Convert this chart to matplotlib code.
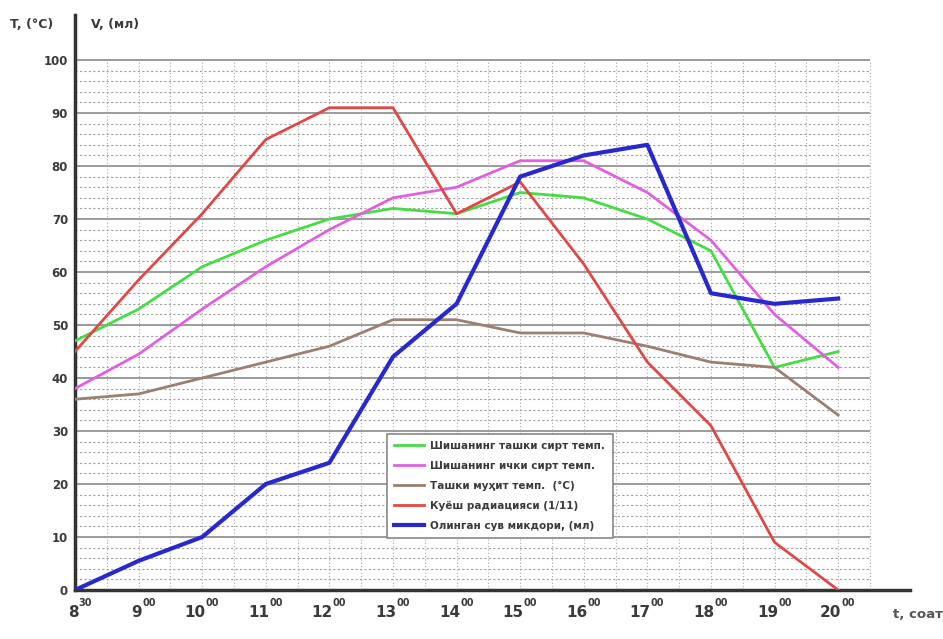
import numpy as np
import matplotlib
matplotlib.use('Agg')
import matplotlib.pyplot as plt

plt.rcParams['font.family'] = ['DejaVu Sans']

# hours of day (data points)
hours = [8, 9, 10, 11, 12, 13, 14, 15, 16, 17, 18, 19, 20]

# series
outer_glass = [47, 53, 61, 66, 70, 72, 71, 75, 74, 70, 64, 42, 45]
inner_glass = [38, 44.5, 53, 61, 68, 74, 76, 81, 81, 75, 66, 52, 42]
ambient = [36, 37, 40, 43, 46, 51, 51, 48.5, 48.5, 46, 43, 42, 33]
radiation = [45, 58.5, 71, 85, 91, 91, 71, 77, 61.5, 43, 31, 9, 0]
water = [0, 5.5, 10, 20, 24, 44, 54, 78, 82, 84, 56, 54, 55]

# x tick labels: hour + superscript minutes
tick_hours = [str(h) for h in hours]
tick_minutes = ['30'] + ['00'] * 12

legend_labels = ['Шишанинг ташки сирт темп.',
                 'Шишанинг ички сирт темп.',
                 'Ташки муҳит темп.  (°C)',
                 'Куёш радиацияси (1/11)',
                 'Олинган сув микдори, (мл)']

txt = '#3a3a3a'

fig = plt.figure(figsize=(9.43, 6.39), dpi=100)
ax = fig.add_axes([75/943, 49/639, 835/943, 575/639])
ax.set_xlim(8, 21.13)
ax.set_ylim(0, 108.5)

# grid drawn by hand so it stops at 100 / 20:30 like the original
x_end = 20.5
for v in np.arange(0, 101, 2):
    if v % 10 == 0:
        ax.hlines(v, 8, x_end, color='#8a8a8a', lw=1.2, zorder=1)
    else:
        ax.hlines(v, 8, x_end, color='#a0a0a0', lw=0.8, ls=(0, (2, 2)), zorder=1)
for h in np.arange(8.5, 20.6, 0.5):
    ax.vlines(h, 0, 100, color='#a8a8a8', lw=0.8, ls=(0, (1, 2)), zorder=1)

ax.plot(hours, outer_glass, color='#44dd44', lw=2, label=legend_labels[0], zorder=3)
ax.plot(hours, inner_glass, color='#e060e0', lw=2, label=legend_labels[1], zorder=3)
ax.plot(hours, ambient, color='#9c7f70', lw=2, label=legend_labels[2], zorder=3)
ax.plot(hours, radiation, color='#e04848', lw=2, label=legend_labels[3], zorder=3)
ax.plot(hours, water, color='#2828d0', lw=3, label=legend_labels[4], zorder=4)

ax.set_yticks(np.arange(0, 101, 10))
ax.set_yticklabels([str(v) for v in range(0, 101, 10)],
                   fontsize=8.5, fontweight='bold', color=txt)
ax.tick_params(axis='y', length=0, pad=5)
ax.set_xticks([])

# hour labels with small raised minutes
for h, hs, ms in zip(hours, tick_hours, tick_minutes):
    ax.annotate(hs, xy=(h, 0), xycoords=('data', 'axes fraction'),
                xytext=(2.5, -10.5), textcoords='offset points', ha='right',
                va='top', fontsize=11, fontweight='bold', color=txt)
    ax.annotate(ms, xy=(h, 0), xycoords=('data', 'axes fraction'),
                xytext=(2.5, -6), textcoords='offset points', ha='left',
                va='top', fontsize=7, fontweight='bold', color=txt)

for s in ['top', 'right']:
    ax.spines[s].set_visible(False)
ax.spines['left'].set_linewidth(2.5)
ax.spines['bottom'].set_linewidth(2.5)
ax.spines['left'].set_color('#333333')
ax.spines['bottom'].set_color('#333333')

fig.text(10/943, 1 - 24/639, 'T, (°C)', fontsize=9, fontweight='bold',
         color=txt, va='center')
fig.text(91/943, 1 - 24/639, 'V, (мл)', fontsize=9, fontweight='bold',
         color=txt, va='center')
fig.text(893/943, 1 - 614/639, 't, соат', fontsize=9.5, fontweight='bold',
         color='#555555', va='center')

leg = ax.legend(loc='lower left', bbox_to_anchor=(12.9, 9.8),
                bbox_transform=ax.transData, borderaxespad=0,
                fancybox=False, edgecolor='#888888', framealpha=1,
                prop={'size': 7.5, 'weight': 'bold'}, handlelength=2.9,
                handletextpad=0.6, labelspacing=0.95, borderpad=0.7)
leg.get_frame().set_linewidth(1.2)
for t in leg.get_texts():
    t.set_color(txt)
leg.set_zorder(5)

fig.savefig('out.png', dpi=100, facecolor='white')
